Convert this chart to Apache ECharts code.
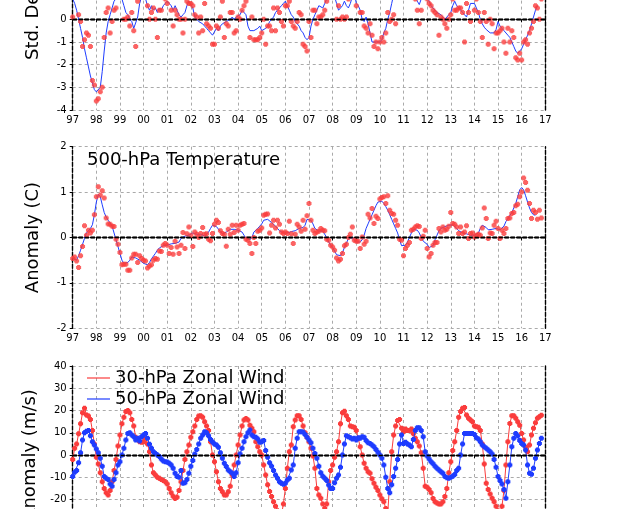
<!DOCTYPE html>
<html><head><meta charset="utf-8">
<script src="https://cdn.jsdelivr.net/npm/echarts@6/dist/echarts.min.js"></script>
<style>html,body{margin:0;padding:0;background:#fff}#c{width:618px;height:509px}</style>
</head><body><div id="c"></div>
<script>
// ---- data (monthly, Jan 1997 .. Dec 2016) ----
const firstYear = 1997, lastYear = 2017;

// Panel 1: standardized index (red dots) and smoothed (blue line)
const indexMonthly = [
  0.1, 1.6, 1.2, 0.2, -0.1, -1.2, -0.9, -0.6, -0.7, -1.2, -2.7, -2.9,
  -3.6, -3.5, -3.2, -3.0, -0.8, 0.3, 0.5, -0.6, -0.1, 0.4, 0.5, 1.0,
  1.0, 1.8, 0.0, 0.0, 0.1, -0.3, 0.3, -0.5, -1.2, 0.8, 1.4, 1.5,
  1.2, 1.8, 0.6, 0.0, 0.3, 0.5, 0.0, -0.8, 0.4, 0.4, 1.3, 0.9,
  0.7, 1.2, 0.4, -0.3, 0.4, 0.2, 0.0, 0.0, -0.6, 0.0, 0.8, 0.7,
  0.7, 0.6, 0.2, 0.1, -0.6, 0.1, -0.5, 0.7, -0.2, -0.3, -0.4, -1.1,
  -1.1, -0.3, -0.4, 0.1, 0.8, -0.8, -0.2, -0.3, 0.3, 0.3, -0.6, -0.5,
  0.1, 0.0, 0.4, 0.6, 0.8, 1.2, -0.8, 0.1, -0.9, -0.9, -0.9, -0.8,
  -0.6, 0.0, -1.1, -0.3, -0.3, -0.5, 0.5, -0.5, 0.5, 0.3, -0.1, -0.3,
  0.6, 0.6, 0.8, -0.1, -0.3, -0.4, -0.1, 0.3, 0.2, -1.1, -1.2, -1.4,
  -0.1, -0.8, 0.4, 0.4, -0.2, 0.1, 0.1, 0.2, 0.4, 0.8, 1.0, 1.4,
  1.5, 1.8, 0.0, 0.6, 0.0, 0.1, 0.0, 0.1, 0.9, 1.2, 1.4, 1.5,
  0.6, 1.0, 0.3, 0.3, -0.3, -0.4, -0.6, -0.2, -0.7, -1.2, -1.0, -1.3,
  -1.0, -0.8, -1.0, -0.6, 0.3, -0.1, 0.0, 0.2, -0.2, 1.5, 2.0, 2.5,
  2.3, 2.5, 2.0, 1.6, 1.3, 1.0, 0.9, 0.4, -0.2, 0.4, 1.2, 1.9,
  0.9, 0.7, 0.6, 0.4, 0.3, 0.2, -0.7, 0.1, 0.0, -0.2, -0.4, 0.0,
  0.2, 0.9, 0.4, 0.4, 0.5, 0.5, 0.3, -1.0, 0.7, 0.3, -0.1, 1.2,
  0.4, 0.9, 0.3, -0.1, -0.8, 0.3, -0.1, -1.1, 0.0, -0.2, -1.3, -0.6,
  -0.6, -0.5, -0.4, -1.0, -1.5, -0.4, -1.0, -0.5, -0.8, -1.7, -1.8, -1.5,
  -1.8, -1.0, -0.9, -1.1, -0.6, -0.4, -0.1, 0.6, 0.5, 0.0, 0.9, null
];
const indexSmoothed = [
  0.9, 0.7, 0.4, 0.0, -0.4, -0.8, -1.3, -1.7, -2.1, -2.5, -2.8, -3.1,
  -3.2, -3.2, -3.0, -2.3, -1.4, -0.6, -0.1, 0.2, 0.5, 0.8, 0.9, 1.0,
  1.0, 0.9, 0.6, 0.3, 0.2, 0.0, -0.1, -0.4, -0.4, 0.1, 0.7, 1.0,
  1.1, 0.9, 0.6, 0.4, 0.6, 0.4, 0.5, 0.3, 0.5, 0.4, 0.6, 0.7,
  0.8, 0.8, 0.6, 0.4, 0.6, 0.4, 0.2, 0.1, 0.2, 0.3, 0.6, 0.8,
  0.8, 0.5, 0.1, 0.0, -0.1, -0.1, -0.2, -0.3, -0.4, -0.5, -0.6, -0.7,
  -0.7, -0.4, -0.5, -0.3, -0.2, -0.2, -0.1, -0.1, 0.0, 0.1, 0.0, 0.1,
  0.1, 0.2, 0.4, 0.4, 0.2, -0.3, -0.5, -0.5, -0.5, -0.5, -0.4, -0.3,
  -0.5, -0.5, -0.4, -0.3, -0.1, 0.0, 0.1, 0.3, 0.4, 0.5, 0.6, 0.7,
  0.8, 0.6, 0.4, 0.2, 0.1, -0.1, -0.2, -0.3, -0.5, -0.6, -0.8, -0.9,
  -0.8, -0.3, 0.0, 0.2, 0.4, 0.6, 0.6, 0.5, 0.7, 0.9, 1.1, 1.2,
  1.3, 1.0, 0.7, 0.4, 0.4, 0.6, 0.8, 0.6, 0.5, 0.7, 1.0, 1.2,
  0.7, 0.6, 0.4, 0.0, -0.1, 0.1, -0.2, -0.6, -1.0, -1.0, -1.0, -1.0,
  -1.0, -0.9, -0.6, -0.4, 0.0, 0.3, 0.7, 1.1, 1.5, 1.9, 2.1, 2.3,
  2.4, 2.3, 2.1, 1.8, 1.5, 1.2, 1.0, 0.8, 0.65, 0.9, 1.2, 1.4,
  1.0, 0.8, 0.6, 0.5, 0.4, 0.3, 0.3, 0.2, 0.1, 0.0, 0.1, 0.2,
  0.3, 0.6, 0.8, 0.6, 0.6, 0.4, 0.3, 0.2, 0.1, 0.4, 0.7, 0.7,
  0.7, 0.5, 0.3, 0.0, -0.2, -0.35, -0.45, -0.5, -0.6, -0.6, -0.6, -0.45,
  -0.1, -0.3, -0.4, -0.5, -0.5, -0.7, -0.8, -1.0, -1.2, -1.4, -1.5, -1.5,
  -1.3, -1.1, -0.9, -0.7, -0.5, -0.2, 0.1, 0.4, 0.6, null, null, null
];

// Panel 2: 500-hPa temperature anomaly (C)
const t500Monthly = [
  -0.46, -0.43, -0.52, -0.66, -0.4, -0.2, 0.26, 0.05, 0.16, 0.1, 0.16, 0.5,
  0.9, 1.12, 0.93, 1.03, 0.87, 0.43, 0.3, 0.29, 0.25, 0.24, -0.04, -0.15,
  -0.33, -0.6, -0.59, -0.59, -0.72, -0.72, -0.45, -0.37, -0.37, -0.55, -0.4, -0.46,
  -0.5, -0.52, -0.67, -0.63, -0.6, -0.5, -0.46, -0.48, -0.3, -0.31, -0.17, -0.13,
  -0.17, -0.35, -0.22, -0.37, -0.08, -0.21, -0.35, -0.17, 0.11, -0.24, 0.08, 0.23,
  0.05, -0.2, 0.12, 0.07, 0.0, 0.09, 0.22, 0.07, 0.08, -0.04, -0.07, 0.09,
  0.29, 0.38, 0.33, 0.15, 0.09, 0.07, -0.19, 0.18, 0.07, 0.27, 0.11, 0.27,
  0.16, 0.27, 0.29, 0.31, -0.04, -0.06, -0.13, -0.35, 0.0, -0.13, 0.14, 0.16,
  0.21, 0.49, 0.51, 0.52, 0.1, 0.27, 0.38, 0.21, 0.38, 0.29, 0.12, 0.09,
  0.12, 0.09, 0.36, 0.08, -0.13, 0.07, 0.29, 0.23, 0.14, 0.38, 0.18, 0.48,
  0.75, 0.38, 0.16, 0.09, 0.12, 0.14, 0.2, 0.16, 0.15, -0.04, -0.06, -0.17,
  -0.21, -0.28, -0.45, -0.52, -0.48, -0.35, -0.18, -0.15, 0.0, 0.07, 0.23, -0.06,
  -0.08, -0.08, -0.24, 0.01, -0.15, -0.08, 0.51, 0.43, 0.64, 0.31, 0.47, 0.42,
  0.85, 0.88, 0.9, 0.75, 0.92, 0.6, 0.53, 0.51, 0.38, 0.27, -0.04, -0.06,
  -0.4, -0.24, -0.17, -0.11, 0.16, 0.18, 0.23, 0.26, 0.24, -0.02, 0.03, 0.16,
  -0.24, -0.43, -0.35, -0.17, -0.11, -0.11, 0.2, 0.12, 0.23, 0.16, 0.18, 0.25,
  0.55, 0.31, 0.29, 0.23, 0.09, 0.23, 0.09, 0.12, 0.26, -0.02, 0.09, 0.1,
  0.01, 0.05, 0.07, 0.05, 0.21, 0.65, 0.42, -0.02, 0.1, 0.09, 0.27, 0.36,
  0.2, -0.02, 0.16, 0.09, 0.2, 0.42, 0.43, 0.53, 0.55, 0.7, 0.73, 0.9,
  1.0, 1.31, 1.21, 1.04, 0.75, 0.42, 0.6, 0.55, 0.4, 0.6, 0.43, null
];
const t500Smoothed = [
  -0.46, -0.48, -0.5, -0.4, -0.28, -0.15, -0.02, 0.1, 0.15, 0.2, 0.28, 0.5,
  0.78, 0.95, 0.9, 0.72, 0.55, 0.45, 0.38, 0.32, 0.25, 0.1, -0.05, -0.2,
  -0.35, -0.5, -0.57, -0.57, -0.55, -0.5, -0.43, -0.42, -0.45, -0.48, -0.5, -0.53,
  -0.57, -0.6, -0.6, -0.55, -0.47, -0.43, -0.35, -0.28, -0.23, -0.2, -0.18, -0.17,
  -0.17, -0.16, -0.14, -0.12, -0.13, -0.17, -0.1, -0.02, 0.02, 0.03, 0.04, 0.05,
  0.05, 0.1, 0.1, 0.07, 0.05, 0.07, 0.05, 0.03, 0.05, 0.12, 0.2, 0.27,
  0.27, 0.24, 0.2, 0.13, 0.08, 0.07, 0.12, 0.15, 0.18, 0.2, 0.18, 0.16,
  0.16, 0.14, 0.12, 0.05, -0.02, -0.03, -0.05, 0.0, 0.12, 0.15, 0.2, 0.25,
  0.3, 0.38, 0.42, 0.4, 0.37, 0.33, 0.3, 0.25, 0.2, 0.15, 0.12, 0.1,
  0.09, 0.1, 0.12, 0.13, 0.12, 0.15, 0.18, 0.2, 0.2, 0.22, 0.27, 0.4,
  0.42, 0.38, 0.3, 0.2, 0.16, 0.14, 0.15, 0.14, 0.1, 0.0, -0.1, -0.17,
  -0.22, -0.3, -0.38, -0.42, -0.4, -0.33, -0.22, -0.12, -0.03, 0.01, 0.0, -0.05,
  -0.1, -0.12, -0.1, -0.05, 0.05, 0.2, 0.3, 0.4, 0.5, 0.6, 0.7, 0.78,
  0.82, 0.8, 0.75, 0.68, 0.6, 0.5, 0.4, 0.3, 0.2, 0.1, -0.05, -0.18,
  -0.2, -0.17, -0.1, 0.0, 0.1, 0.18, 0.18, 0.16, 0.1, 0.0, -0.08, -0.12,
  -0.15, -0.22, -0.24, -0.18, -0.05, 0.05, 0.15, 0.2, 0.22, 0.24, 0.26, 0.27,
  0.28, 0.28, 0.25, 0.2, 0.15, 0.12, 0.1, 0.08, 0.08, 0.07, 0.05, 0.05,
  0.05, 0.06, 0.1, 0.2, 0.27, 0.26, 0.22, 0.17, 0.16, 0.18, 0.2, 0.2,
  0.18, 0.17, 0.2, 0.25, 0.35, 0.42, 0.45, 0.55, 0.65, 0.75, 0.9, 1.05,
  1.1, 1.05, 0.92, 0.78, 0.65, 0.55, 0.5, 0.49, null, null, null, null
];

// Panel 3: zonal wind anomaly (m/s)
const wind30 = [
  -2, 3, 5, 9.5, 14, 19, 21, 18, 17.5, 16, 11, 5,
  -1, -4, -8, -12, -15, -17, -18, -16, -12, -7, -2, 4,
  9, 14, 17, 19.5, 20, 19, 16, 13, 8, 7, 6, 5.7,
  6, 7.5, 5, 1.5, -4.5, -8, -9, -10, -10.5, -11, -11.5, -12,
  -13, -15, -17, -18.5, -19.5, -19, -16, -12, -7, -2, 1.5, 4.5,
  8, 10.5, 13, 16, 17.5, 17.6, 17, 15, 13, 11, 6, 0,
  -3, -7.5, -12, -15, -16.5, -18, -18, -16.5, -14, -9, -4.5, 0,
  4.5, 9, 13, 15.7, 16.4, 15.7, 13.4, 12, 10.4, 6, 3.7, 1.5,
  0, -4.5, -9, -13.4, -16.4, -18.7, -21, -23, -25, -26, -27, -22,
  -15, -6, 1.5, 4.5, 12.7, 15.7, 17.6, 17.6, 16, 13, 10, 8,
  6, 3, -0.5, -6, -15, -18, -19.4, -22, -24, -22, -12, -7,
  -4.5, -1, 1.5, 6, 14, 19, 19.7, 17.6, 16, 13, 12.7, 12.5,
  11, 7.5, 3.7, 0, -3.7, -6, -7.5, -8.2, -10.7, -12.7, -14.5, -16,
  -18, -19.7, -21, -24, -26, -12, 1.5, 9, 13, 15.5, 16, 12,
  10.4, 11.7, 11, 11, 11.7, 9.5, 7.5, 6, 4, 1, -6, -14,
  -14.5, -15.5, -17, -19.5, -21, -21.6, -22, -22, -21, -18.7, -15, -8,
  -3, 2, 6, 11, 17, 19.5, 21, 21.3, 18, 16.5, 15.7, 15,
  13, 12.7, 12.5, 11, 5, -4, -12.7, -15.5, -17.5, -19.4, -21, -23,
  -25, -26, -23, -16, -4.5, 6, 14.2, 17.6, 17.6, 16.5, 15, 13.4,
  9.7, 6.7, 3.5, 1.5, 4.5, 9, 12, 14.5, 16.5, 17.2, 17.9, null
];
const wind50 = [
  -9.7, -7.8, -7, -3.5, 1, 6.7, 10, 10.7, 11, 8.7, 6, 4.5,
  2.7, 1, -1.5, -5, -9.7, -10.4, -11, -13, -14, -11, -8, -4.5,
  -3, 0, 3, 6.7, 9.7, 10, 9, 8.2, 6.7, 7.5, 6.3, 8.2,
  9, 9.7, 7.5, 4.8, 3, 1.5, 0.7, 0, -0.7, -1.8, -2.7, -3,
  -3.2, -3.7, -4.5, -6, -8.2, -9.7, -10, -7, -12.7, -12.5, -11, -8.2,
  -5, -2.5, 0.5, 2.5, 5, 7.5, 9, 10.5, 10, 8.7, 7, 5.8,
  5, 4.5, 3.5, 1, -1.5, -3.7, -5.2, -6.7, -7.5, -8.2, -9.7, -8,
  -3.5, 0.5, 3, 6, 8.2, 10, 11.2, 9, 8.2, 8, 7.2, 5.7,
  6, 6.5, 2, -1, -3.5, -5, -7, -9, -10.5, -12, -12.7, -13.2,
  -12.7, -11.2, -10.5, -6.7, -4.5, 3, 7.5, 10.5, 10.5, 10.3, 9.2, 8,
  6.7, 5.5, 3, 0.7, -1.5, -5, -8, -9.5, -10.5, -11.5, -13.5, -15,
  -15, -12.5, -10.5, -9, -5.5, 0, 5, 8.7, 8.2, 7.8, 7.2, 7.5,
  6.7, 7.8, 7.5, 8.2, 8, 6.5, 5.5, 5.2, 4.5, 3.7, 2.5, 1.2,
  0, -1.5, -4.5, -10, -15, -17, -13.4, -9.7, -6, -2, 5, 9,
  5.2, 5.7, 5, 4.5, 3.7, 7, 11, 12.2, 12.2, 11, 8.2, 1.5,
  -0.5, -1.8, -3, -3.9, -5, -6, -6.7, -7.5, -8.2, -9.7, -10.2, -10.4,
  -10, -9.5, -8.8, -7, -6, 0, 5, 9.7, 9.7, 9.7, 9.7, 9.7,
  9.2, 7.8, 7.2, 6, 4.5, 3.7, 3, 2.2, 1.5, 0.5, -2, -5.5,
  -9.7, -11.5, -13, -15.5, -19.4, -12, -4.5, 3.7, 7.5, 9.7, 8.5, 6.5,
  5.2, 4.5, 2.2, -4.5, -8.2, -8.7, -6, -1.5, 2.2, 5.2, 7.5, null
];

const panelTitles = ['Std. Dev.', 'Anomaly (C)', 'Anomaly (m/s)'];
const seriesNames = ['30-hPa Zonal Wind', '50-hPa Zonal Wind'];
const tempTitle = '500-hPa Temperature';

// month categories, Jan 1997 .. Jan 2017
const months = [];
for (let y = firstYear; y < lastYear; y++) for (let m = 1; m <= 12; m++) months.push(y + '-' + m);
months.push(lastYear + '-1');

// ---- styling ----
const FONT = 'DejaVu Sans';
const RED = 'rgb(250,60,60)', BLUE = 'rgb(30,60,255)';
const MARK = 'path://M1,0H4V1H5V4H4V5H1V4H0V1H1Z';
const frame = {color: '#000', type: [4, 2], width: 1.4};
const gridLine = {color: '#aaa', type: [3, 3], width: 1};
const isYear = (i) => i % 12 === 0;

const grids = [
  {left: 72.7, right: 72.7, top: -71.4, height: 181.4, outerBoundsMode: 'none', containLabel: false},
  {left: 72.7, right: 72.7, top: 146.7, height: 181.6, outerBoundsMode: 'none', containLabel: false},
  {left: 72.7, right: 72.7, top: 366, height: 178, outerBoundsMode: 'none', containLabel: false}
];
const yRanges = [[-4, 4, 1], [-2, 2, 1], [-40, 40, 10]];

const xAxis = [], yAxis = [];
grids.forEach((g, gi) => {
  xAxis.push({type: 'category', gridIndex: gi, data: months, boundaryGap: false,
    axisLine: {lineStyle: frame},
    axisTick: {interval: isYear, length: 3, lineStyle: {color: '#000'}},
    axisLabel: {interval: isYear, formatter: v => v.slice(2, 4), color: '#000', fontFamily: FONT, fontSize: 10, margin: 5},
    splitLine: {show: true, interval: isYear, lineStyle: gridLine}});
  xAxis.push({type: 'category', gridIndex: gi, data: months, boundaryGap: false, position: 'top',
    axisLine: {lineStyle: frame}, axisTick: {show: false}, axisLabel: {show: false}, splitLine: {show: false}});
  const [mn, mx, iv] = yRanges[gi];
  yAxis.push({type: 'value', gridIndex: gi, min: mn, max: mx, interval: iv,
    axisLine: {show: true, lineStyle: frame},
    axisTick: {show: true, length: 3, lineStyle: {color: '#000'}},
    axisLabel: {color: '#000', fontFamily: FONT, fontSize: 10, margin: 6},
    splitLine: {show: true, lineStyle: gridLine},
    name: panelTitles[gi], nameLocation: 'middle', nameGap: 30, nameRotate: 90,
    nameTextStyle: {fontFamily: FONT, fontSize: 18, color: '#000'}});
  yAxis.push({type: 'value', gridIndex: gi, min: mn, max: mx, interval: iv, position: 'right',
    axisLine: {show: true, lineStyle: frame}, axisTick: {show: false}, axisLabel: {show: false}, splitLine: {show: false}});
});

const zeroLine = {silent: true, symbol: 'none', label: {show: false},
  lineStyle: {color: '#000', type: [4, 2], width: 1.4}, data: [{yAxis: 0}]};

const series = [
  {type: 'line', xAxisIndex: 0, yAxisIndex: 0, data: indexSmoothed, showSymbol: false,
   lineStyle: {color: BLUE, width: 1}, itemStyle: {color: BLUE}, markLine: zeroLine, z: 3},
  {type: 'scatter', xAxisIndex: 0, yAxisIndex: 0, data: indexMonthly, symbol: MARK, symbolSize: 5,
   itemStyle: {color: RED}, z: 4},
  {type: 'line', xAxisIndex: 2, yAxisIndex: 2, data: t500Smoothed, showSymbol: false,
   lineStyle: {color: BLUE, width: 1}, itemStyle: {color: BLUE}, markLine: zeroLine, z: 3},
  {type: 'scatter', xAxisIndex: 2, yAxisIndex: 2, data: t500Monthly, symbol: MARK, symbolSize: 5,
   itemStyle: {color: RED}, z: 4},
  {name: seriesNames[0], type: 'line', xAxisIndex: 4, yAxisIndex: 4, data: wind30,
   symbol: MARK, symbolSize: 5, showSymbol: true, showAllSymbol: true,
   lineStyle: {color: RED, width: 1}, itemStyle: {color: RED}, markLine: zeroLine, z: 3},
  {name: seriesNames[1], type: 'line', xAxisIndex: 4, yAxisIndex: 4, data: wind50,
   symbol: MARK, symbolSize: 5, showSymbol: true, showAllSymbol: true,
   lineStyle: {color: BLUE, width: 1}, itemStyle: {color: BLUE}, z: 4}
];

const chart = echarts.init(document.getElementById('c'), null, {renderer: 'canvas'});
chart.setOption({
  animation: false,
  backgroundColor: '#fff',
  grid: grids,
  xAxis, yAxis, series,
  title: {text: tempTitle, left: 87, top: 151, padding: 0,
    textStyle: {fontFamily: FONT, fontSize: 18, fontWeight: 'normal', color: '#000'}},
  legend: {data: seriesNames, orient: 'vertical', left: 87, top: 369, padding: 0,
    icon: 'rect', itemWidth: 23, itemHeight: 1.2, itemGap: 3, selectedMode: false,
    textStyle: {fontFamily: FONT, fontSize: 18, color: '#000', lineHeight: 18}}
});
</script>
</body></html>
